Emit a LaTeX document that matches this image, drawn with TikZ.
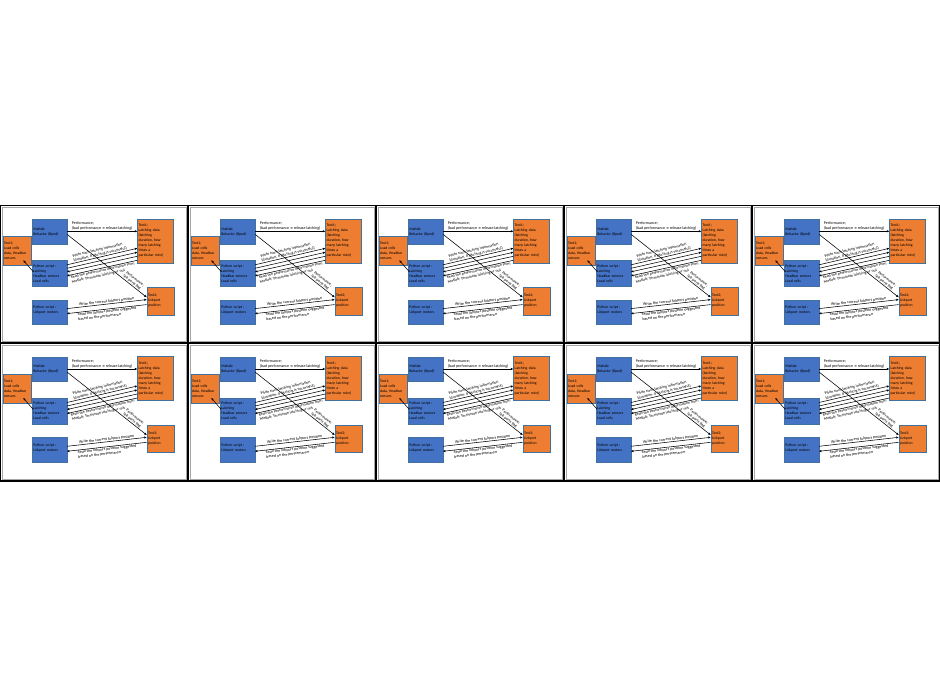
\documentclass[tikz,border=0pt]{standalone}
\usepackage{fontspec}
\setmainfont{Carlito}
\newfontfamily\dejavu{DejaVu Sans}
\usetikzlibrary{arrows.meta}
\definecolor{bluebox}{HTML}{4472C4}
\definecolor{orangebox}{HTML}{ED7D31}
\definecolor{edgeblue}{HTML}{41719C}
\tikzset{
  box/.style={draw=edgeblue, line width=0.3pt, anchor=north west, inner sep=1.2pt,
    align=left, font=\fontsize{3.8}{5}\selectfont, text=black},
  bbox/.style={box, fill=bluebox},
  obox/.style={box, fill=orangebox},
  conn/.style={line width=0.55pt, -{Triangle[length=2.4pt,width=2pt]}},
  lbl/.style={font=\fontsize{4}{4.6}\selectfont, align=left, inner sep=0.5pt, sloped},
  panelframe/.style={draw=black, line width=1.6pt},
  innerframe/.style={draw=gray!70, line width=0.4pt}
}
\begin{document}
\begin{tikzpicture}[x=1pt,y=-1pt]
\useasboundingbox (0,0) rectangle (940,688);
\fill[white] (0,0) rectangle (940,688);
\foreach \c in {0,...,4}{
\foreach \r in {0,1}{
\begin{scope}[shift={(188*\c,205.3+137.7*\r)}]
  \draw[innerframe] (1.8,1.8) rectangle (186.2,135.9);
  \draw[panelframe] (0,0) rectangle (188,137.7);
  \node[bbox, minimum width=34.7, minimum height=24.3, text width=32.3] (mat\c\r) at (32,14) {Matlab:\\Behavior (Bpod)};
  \node[obox, minimum width=28, minimum height=29, text width=25.6] (tl\c\r) at (2.7,31) {Text1;\\Load cells\\data, Headbar\\sensors};
  \node[bbox, minimum width=34.7, minimum height=25.7, text width=32.3] (pyl\c\r) at (32,55) {Python script :\\Latching\\Headbar sensors\\Load cells};
  \node[bbox, minimum width=34.7, minimum height=24.7, text width=32.3] (pym\c\r) at (32,94.3) {Python script :\\Lickport motors\\\mbox{}};
  \node[obox, minimum width=36, minimum height=44, text width=33.6] (tr\c\r) at (137.3,13.3) {Text1;\\Latching data\\(latching\\duration, how\\many latching\\times a\\particular mice)};
  \node[obox, minimum width=27.3, minimum height=27.6, text width=24.9] (tt\c\r) at (146.7,81.7) {Text2;\\Lickport\\position};
  % Matlab -> Text1 right
  \draw[conn] (mat\c\r.east |- 0,26) -- (tr\c\r.west |- 0,26)
    node[midway, above, lbl, sloped=false, inner sep=1pt] (lp\c\r) {Performance;\\(bad performance {\dejavu\fontsize{3.4}{4}\selectfont ➔} release latching)};
  % Python latching -> Text1 left
  \coordinate (ta\c\r) at (23.3,55);
  \coordinate (pa\c\r) at (33.3,66.5);
  \draw[conn] (pa\c\r) -- (ta\c\r);
  % four lines between Python latching and Text1 right
  \draw[conn] (pyl\c\r.east |- 0,59.5) -- (tr\c\r.west |- 0,43)
    node[pos=0.48, above, lbl] (lw\c\r) {Write each latching information\\(duration, if latching is successful)};
  \draw[conn] (pyl\c\r.east |- 0,63) -- (tr\c\r.west |- 0,47);
  \draw[conn] (tr\c\r.west |- 0,51) -- (pyl\c\r.east |- 0,66.5);
  \draw[conn] (tr\c\r.west |- 0,55) -- (pyl\c\r.east |- 0,70.5)
    node[pos=0.5, below, lbl] (lr\c\r) {Read the performance information from\\Matlab; Terminate latching or not};
  % Matlab -> Text2 diagonal
  \draw[conn] (mat\c\r.east |- 0,29) -- (tt\c\r.west |- 0,92)
    node[pos=0.8, above, lbl] (ld\c\r) {Performance;\\lick ports flag};
  % lickport lines
  \draw[conn] (pym\c\r.east |- 0,103.3) -- (tt\c\r.west |- 0,94.3)
    node[midway, above, lbl] (lc\c\r) {Write the current lickport position};
  \draw[conn] (tt\c\r.west |- 0,99.3) -- (pym\c\r.east |- 0,108.3)
    node[midway, below, lbl] (lb\c\r) {Read the lickport position suggested\\based on the performance};
\end{scope}
}}
\end{tikzpicture}
\end{document}
